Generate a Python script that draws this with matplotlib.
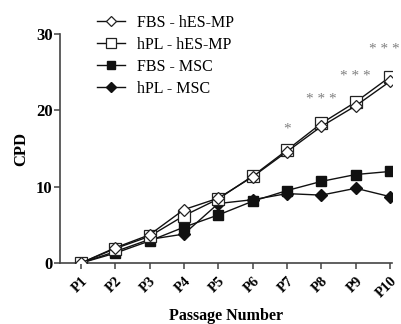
import matplotlib
matplotlib.use("Agg")
import matplotlib.pyplot as plt

plt.rcParams['font.family'] = ['Liberation Serif', 'DejaVu Serif']

passages = ["P1", "P2", "P3", "P4", "P5", "P6", "P7", "P8", "P9", "P10"]
fbs_hes = [0, 2.0, 3.7, 7.0, 8.5, 11.3, 14.6, 17.9, 20.6, 23.8]
hpl_hes = [0, 1.9, 3.5, 6.2, 8.4, 11.4, 14.8, 18.3, 21.1, 24.4]
fbs_msc = [0, 1.3, 2.9, 4.7, 6.3, 8.1, 9.5, 10.7, 11.6, 12.0]
hpl_msc = [0, 1.5, 3.1, 3.8, 7.8, 8.3, 9.1, 8.9, 9.8, 8.7]
sig_labels = ["*", "* * *", "* * *", "* * *"]
sig_idx = [6, 7, 8, 9]
sig_y = [17.5, 21.4, 24.5, 28.0]

fig = plt.figure(figsize=(4.01, 3.24), dpi=100)
ax = fig.add_axes([0.150, 0.188, 0.828, 0.707])
x = list(range(len(passages)))
lc = '#111111'
ax.plot(x, fbs_msc, color=lc, lw=1.0, marker='s', ms=7.5, mfc='#111111', mec='#111111', label='FBS - MSC', zorder=3)
ax.plot(x, hpl_msc, color=lc, lw=1.0, marker='D', ms=6, mfc='#111111', mec='#111111', label='hPL - MSC', zorder=3)
ax.plot(x, hpl_hes, color=lc, lw=1.0, marker='s', ms=8, mfc='white', mec='#222222', mew=0.9, label='hPL - hES-MP', zorder=4)
ax.plot(x, fbs_hes, color=lc, lw=1.0, marker='D', ms=6.5, mfc='white', mec='#222222', mew=0.9, label='FBS - hES-MP', zorder=5)

for i, lab, yy in zip(sig_idx, sig_labels, sig_y):
    ax.annotate(lab, (i, yy), xytext=(-4 if i == 9 else 0, 0), textcoords='offset points',
                ha='center', va='center', fontsize=11, color='#808080', annotation_clip=False)

ax.set_xlim(-0.6, 9.06)
ax.set_ylim(0, 30)
ax.set_yticks([0, 10, 20, 30])
ax.set_xticks(x)
ax.set_xticklabels(passages, rotation=45, ha='right', rotation_mode='anchor', fontweight='bold', fontsize=10.5)
for t in ax.get_yticklabels():
    t.set_fontweight('bold')
    t.set_fontsize(12)
for s in ['top', 'right']:
    ax.spines[s].set_visible(False)
for s in ['left', 'bottom']:
    ax.spines[s].set_color('#444444')
    ax.spines[s].set_linewidth(1.2)
ax.tick_params(axis='both', direction='out', length=4, width=1.1, color='#444444', pad=1.5)
ax.tick_params(axis='x', pad=4)
ax.set_ylabel('CPD', fontweight='bold', fontsize=12, labelpad=5)
ax.set_xlabel('Passage Number', fontweight='bold', fontsize=11.5, labelpad=6)

h, l = ax.get_legend_handles_labels()
order = [3, 2, 0, 1]
ax.legend([h[i] for i in order], [l[i] for i in order], loc='upper left', bbox_to_anchor=(0.093, 1.112),
          frameon=False, fontsize=11.5, handlelength=1.7, handletextpad=0.8, labelspacing=0.38,
          borderaxespad=0, markerscale=0.85)

fig.savefig('out.png', dpi=100)
